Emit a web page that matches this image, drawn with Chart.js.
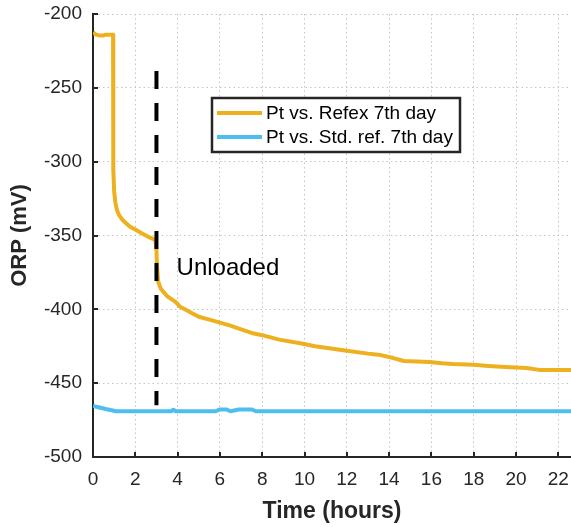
<!DOCTYPE html>
<html>
<head>
<meta charset="utf-8">
<title>ORP vs time</title>
<script src="https://cdn.jsdelivr.net/npm/chart.js@4.4.1/dist/chart.umd.min.js"></script>
<style>
  html, body { margin: 0; padding: 0; background: #fff; }
  #wrap { width: 571px; height: 527px; }
</style>
</head>
<body>
<div id="wrap"><canvas id="canvas" width="571" height="527"></canvas></div>
<script>
// Pt vs. Refex, 7th day
var refexTime = [0, 0.15, 0.3, 0.5, 0.6, 0.95, 0.96, 1.0, 1.06, 1.12, 1.18, 1.27, 1.4, 1.55, 1.75, 2.0, 2.3, 2.7, 2.95,
  3.0, 3.03, 3.08, 3.2, 3.5, 3.9, 4.1, 4.6, 5.0, 5.5, 6.0, 6.5, 7.0, 7.5, 8.0, 8.8, 9.8, 10.5, 11.0, 12.0,
  13.0, 13.6, 14.2, 14.7, 15.9, 16.5, 17.0, 18.0, 18.7, 19.5, 20.5, 21.1, 22.6];
var refexOrp = [-212.5, -214, -214.5, -214.5, -214, -214, -305, -320, -328, -332, -334.5, -337, -339.5, -341.5, -344, -346, -348.5, -351.5, -353,
  -360, -372, -381, -386, -391, -395, -398, -402, -405, -407, -409, -411, -413.5, -416, -417.5, -420.5, -423, -425, -426, -428,
  -430, -431, -433, -435, -435.6, -436.5, -437, -437.5, -438.3, -439, -439.7, -441, -441];

// Pt vs. Std. ref., 7th day
var stdTime = [0, 0.3, 0.6, 1.1, 3.7, 3.8, 3.9, 5.8, 6.0, 6.3, 6.5, 6.9, 7.5, 7.7, 22.6];
var stdOrp = [-465.5, -466.5, -467.5, -469, -469, -468, -469, -469, -467.8, -467.8, -469, -467.8, -467.8, -469, -469];

// load removed at 3 h
var unloadTime = [3, 3];
var unloadOrp = [-238.6, -465];

var seriesLabels = ['Pt vs. Refex 7th day', 'Pt vs. Std. ref. 7th day'];
var xTicks = [0, 2, 4, 6, 8, 10, 12, 14, 16, 18, 20, 22];
var yTicks = [-500, -450, -400, -350, -300, -250, -200];

var AXIS = '#262626';
var ORANGE = '#EDB120';
var BLUE = '#4DBEEE';

Chart.defaults.font.family = '"Liberation Sans", Arial, sans-serif';
Chart.defaults.color = AXIS;

function toPoints(xs, ys) {
  var pts = [];
  for (var i = 0; i < xs.length; i++) pts.push({x: xs[i], y: ys[i]});
  return pts;
}

// small inward tick marks, like the original axes
var innerTicks = {
  id: 'innerTicks',
  beforeDatasetsDraw: function(chart) {
    var ctx = chart.ctx, a = chart.chartArea;
    var xs = chart.scales.x, ys = chart.scales.y;
    ctx.save();
    ctx.strokeStyle = AXIS;
    ctx.lineWidth = 2;
    ctx.beginPath();
    xTicks.forEach(function(v) {
      var px = Math.round(xs.getPixelForValue(v));
      ctx.moveTo(px, a.bottom);
      ctx.lineTo(px, a.bottom - 5);
    });
    yTicks.forEach(function(v) {
      var py = Math.round(ys.getPixelForValue(v));
      ctx.moveTo(a.left, py);
      ctx.lineTo(a.left + 5, py);
    });
    ctx.stroke();
    ctx.restore();
  }
};

// boxed legend inside the plot plus the "Unloaded" note
var annotations = {
  id: 'annotations',
  afterDraw: function(chart) {
    var ctx = chart.ctx;
    var xs = chart.scales.x, ys = chart.scales.y;

    ctx.save();
    ctx.font = '24px "Liberation Sans", Arial, sans-serif';
    ctx.fillStyle = '#000';
    ctx.textAlign = 'left';
    ctx.textBaseline = 'middle';
    ctx.fillText('Unloaded', xs.getPixelForValue(3.95), ys.getPixelForValue(-372));

    var bx = 212, by = 98, bw = 248, bh = 54;
    ctx.fillStyle = '#fff';
    ctx.fillRect(bx, by, bw, bh);
    ctx.strokeStyle = AXIS;
    ctx.lineWidth = 2.5;
    ctx.strokeRect(bx, by, bw, bh);

    ctx.font = '19px "Liberation Sans", Arial, sans-serif';
    ctx.fillStyle = '#000';
    for (var i = 0; i < 2; i++) {
      var ds = chart.data.datasets[i];
      var ly = by + 15 + i * 24;
      ctx.strokeStyle = ds.borderColor;
      ctx.lineWidth = 4;
      ctx.beginPath();
      ctx.moveTo(bx + 5, ly);
      ctx.lineTo(bx + 50, ly);
      ctx.stroke();
      ctx.fillText(ds.label, bx + 54, ly + 1);
    }
    ctx.restore();
  }
};

var ctx = document.getElementById('canvas').getContext('2d');
window.orpChart = new Chart(ctx, {
  type: 'line',
  data: {
    datasets: [{
      label: seriesLabels[0],
      data: toPoints(refexTime, refexOrp),
      borderColor: ORANGE,
      borderWidth: 4,
      borderJoinStyle: 'round',
      pointRadius: 0,
      order: 1
    }, {
      label: seriesLabels[1],
      data: toPoints(stdTime, stdOrp),
      borderColor: BLUE,
      borderWidth: 4,
      borderJoinStyle: 'round',
      pointRadius: 0,
      order: 2
    }, {
      label: 'unload',
      data: toPoints(unloadTime, unloadOrp),
      borderColor: '#000',
      borderWidth: 4,
      borderDash: [18, 14],
      pointRadius: 0,
      order: 0
    }]
  },
  options: {
    responsive: false,
    animation: false,
    events: [],
    layout: { padding: { left: 0, top: 14, right: 0, bottom: 0 } },
    plugins: {
      legend: { display: false },
      tooltip: { enabled: false }
    },
    scales: {
      x: {
        type: 'linear',
        min: 0,
        max: 22.6,
        afterBuildTicks: function(scale) {
          scale.ticks = xTicks.map(function(v) { return {value: v}; });
        },
        afterFit: function(scale) { scale.height = 70; },
        ticks: {
          padding: 0,
          font: { size: 19, lineHeight: 2.4 },
          color: AXIS,
          maxRotation: 0
        },
        grid: { color: '#c4c4c4', lineWidth: 1, drawTicks: false },
        border: { display: true, color: AXIS, width: 2, dash: [1.5, 3] },
        title: {
          display: true,
          text: 'Time (hours)',
          font: { size: 23, weight: 'bold' },
          color: AXIS,
          padding: { top: 0, bottom: 2 }
        }
      },
      y: {
        type: 'linear',
        min: -500,
        max: -200,
        afterBuildTicks: function(scale) {
          scale.ticks = yTicks.map(function(v) { return {value: v}; });
        },
        afterFit: function(scale) {
          scale.width = 93;
          // the top label may overhang; keep the plot top fixed by layout padding
          scale.paddingTop = 0;
          scale.paddingBottom = 0;
        },
        ticks: {
          padding: 11,
          font: { size: 19 },
          color: AXIS
        },
        grid: { color: '#c4c4c4', lineWidth: 1, drawTicks: false },
        border: { display: true, color: AXIS, width: 2, dash: [1.5, 3] },
        title: {
          display: true,
          text: 'ORP (mV)',
          font: { size: 22, weight: 'bold' },
          color: AXIS,
          padding: { top: 7, bottom: 0 }
        }
      }
    }
  },
  plugins: [innerTicks, annotations]
});
</script>
</body>
</html>
